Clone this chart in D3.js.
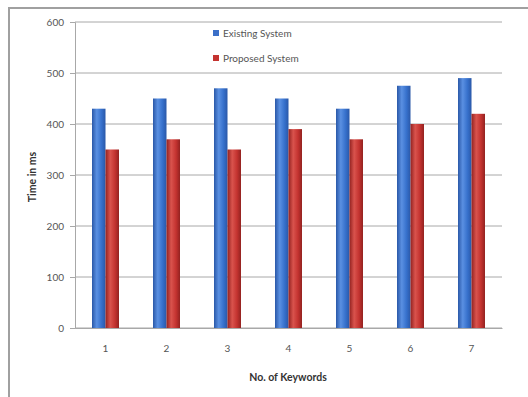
<!DOCTYPE html>
<html><head><meta charset="utf-8">
<script src="https://cdn.jsdelivr.net/npm/d3@7"></script>
<style>body{margin:0;background:#fff}svg{display:block}</style>
</head><body>
<script>
const categories = ["1","2","3","4","5","6","7"];
const seriesNames = ["Existing System","Proposed System"];
const existing = [430,450,470,450,430,475,490];
const proposed = [350,370,350,390,370,400,420];
const yTicks = [0,100,200,300,400,500,600];

const W=528,H=397;
const svg=d3.select("body").append("svg").attr("width",W).attr("height",H);
const defs=svg.append("defs");
function grad(id,dark,mid,light){
  const g=defs.append("linearGradient").attr("id",id).attr("x1","0").attr("x2","1").attr("y1","0").attr("y2","0");
  g.append("stop").attr("offset","0%").attr("stop-color",dark);
  g.append("stop").attr("offset","35%").attr("stop-color",light);
  g.append("stop").attr("offset","70%").attr("stop-color",mid);
  g.append("stop").attr("offset","100%").attr("stop-color",dark);
}
grad("gb","#2a58a8","#3771cc","#5a90e2");
grad("gr","#932220","#c43330","#d9534d");
const fills=["url(#gb)","url(#gr)"];
const legendCols=["#3b6fc8","#c43330"];

// outer frame
svg.append("path").attr("d","M9,397 V8 H528").attr("fill","none").attr("stroke","#a0a0a0").attr("stroke-width",2);

const font="Lato, 'Open Sans', sans-serif";
const y=d3.scaleLinear().domain([0,600]).range([328,22]);
const x0=d3.scaleBand().domain(categories).range([75,502]);
const bw=x0.bandwidth();
const x1=d3.scaleBand().domain(seriesNames).range([bw/2-13.5,bw/2+13.5]);

// grid
svg.append("g").selectAll("line").data(yTicks).join("line")
  .attr("x1",75).attr("x2",502).attr("y1",d=>y(d)).attr("y2",d=>y(d))
  .attr("stroke","#a8a8a8").attr("stroke-width",1);

// y axis
const ya=svg.append("g").attr("transform","translate(75,0)").call(d3.axisLeft(y).tickValues(yTicks).tickSize(5).tickPadding(6));
ya.select(".domain").attr("stroke","#a8a8a8");
ya.selectAll(".tick line").attr("stroke","#a8a8a8");
ya.selectAll("text").attr("font-family",font).attr("font-size",10).attr("fill","#555");

// bars
const data=categories.map((c,i)=>({c,vals:[existing[i],proposed[i]]}));
const g=svg.append("g");
data.forEach(d=>{
  d.vals.forEach((v,j)=>{
    g.append("rect").attr("x",x0(d.c)+x1(seriesNames[j])).attr("width",x1.bandwidth())
      .attr("y",y(v)).attr("height",y(0)-y(v)).attr("fill",fills[j]);
  });
});

// x axis
const xa=svg.append("g").attr("transform","translate(0,328)").call(d3.axisBottom(x0).tickSize(0).tickPadding(17));
xa.select(".domain").attr("stroke","#a8a8a8");
xa.selectAll("text").attr("font-family",font).attr("font-size",10).attr("fill","#555");

// axis titles
svg.append("text").attr("x",288).attr("y",381).attr("text-anchor","middle")
  .attr("font-family",font).attr("font-size",10.5).attr("font-weight","bold").attr("fill","#333").text("No. of Keywords");
svg.append("text").attr("transform","translate(36,177) rotate(-90)").attr("text-anchor","middle")
  .attr("font-family",font).attr("font-size",10.5).attr("font-weight","bold").attr("fill","#333").text("Time in ms");

// legend
const lg=svg.append("g").selectAll("g").data(seriesNames).join("g").attr("transform",(d,i)=>`translate(213,${30+i*25})`);
lg.append("rect").attr("width",6).attr("height",6).attr("fill",(d,i)=>legendCols[i]);
lg.append("text").attr("x",10).attr("y",7).attr("font-family",font).attr("font-size",10).attr("fill","#555").text(d=>d);
</script>
</body></html>
